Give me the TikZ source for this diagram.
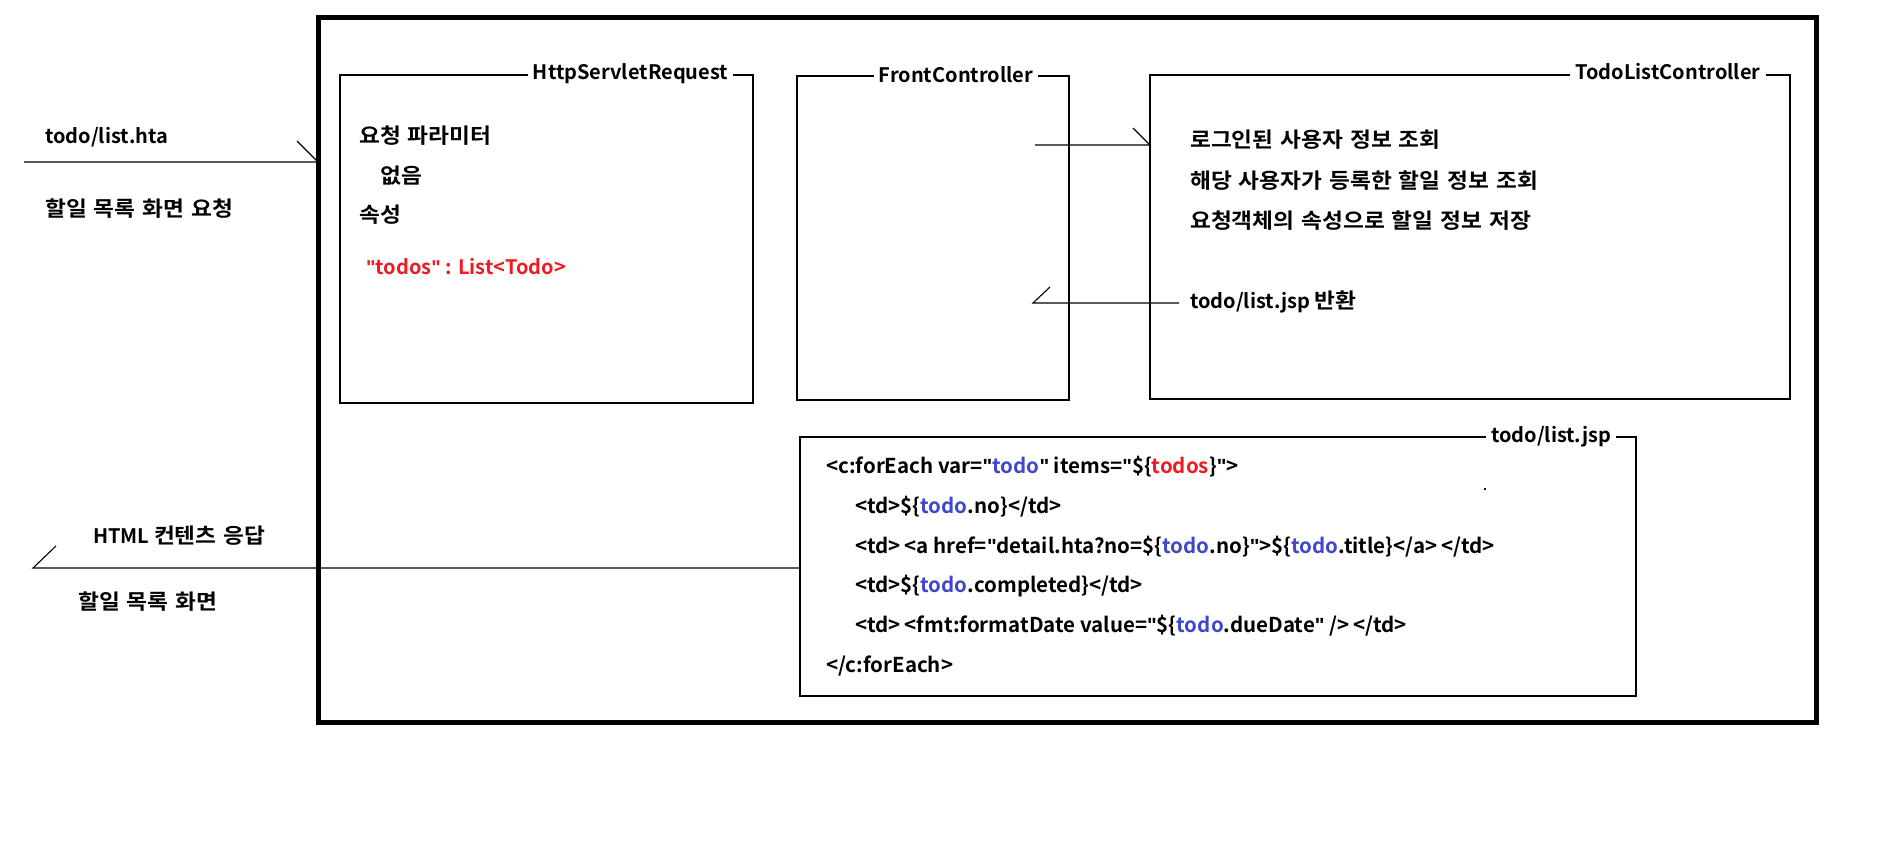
\documentclass[tikz,border=0pt]{standalone}
\usepackage{fontspec}
\setmainfont{Noto Sans CJK KR}[BoldFont={* Bold}, Ligatures=ResetAll]
\newfontfamily\kf{Noto Sans CJK KR}[BoldFont={* Bold}, Ligatures=ResetAll, FakeStretch=1.08]
\newfontfamily\qf{Liberation Sans}[Ligatures=ResetAll]
\definecolor{cblue}{HTML}{3F48CC}
\definecolor{cred}{HTML}{ED1C24}
\newcommand{\tb}[1]{\textcolor{cblue}{#1}}
\newcommand{\tr}[1]{\textcolor{cred}{#1}}
\newcommand{\q}{{\qf\bfseries\symbol{34}}}
\newcommand{\gap}{\hspace{4pt}}
\newcommand{\K}[1]{{\kf\bfseries\fontsize{21}{24}\selectfont\spaceskip=7pt\relax #1}}
\begin{document}
\begin{tikzpicture}[x=1pt,y=-1pt,
  box/.style={draw, line width=1.1pt, inner sep=0pt, outer sep=0pt, anchor=north west},
  txt/.style={anchor=base west, inner sep=0pt, font=\bfseries\fontsize{20}{24}\selectfont},
  code/.style={txt, font=\bfseries\fontsize{20.5}{24}\selectfont},
  ktxt/.style={txt, font=\kf\bfseries\fontsize{21}{24}\selectfont, execute at begin node={\spaceskip=7pt\relax}},
  ttl/.style={anchor=base, fill=white, inner xsep=5pt, inner ysep=0pt, font=\bfseries\fontsize{20}{24}\selectfont},
  conn/.style={line width=1.1pt}]
\useasboundingbox (0,0) rectangle (1898,859);
\fill[white] (0,0) rectangle (1898,859);
% outer frame
\node[box, line width=5pt, minimum width=1498, minimum height=704] (outer) at (318,18) {};
% boxes
\node[box, minimum width=413, minimum height=328] (req) at (340,75) {};
\node[box, minimum width=272, minimum height=324] (fc) at (797,76) {};
\node[box, minimum width=640, minimum height=324] (tlc) at (1150,75) {};
\node[box, minimum width=836, minimum height=259] (jsp) at (800,437) {};
% titles
\node[ttl] (reqT) at (630.5,80) {HttpServletRequest};
\node[ttl] (fcT) at (956,82) {FrontController};
\node[ttl] (tlcT) at (1668,80) {TodoListController};
\node[ttl] (jspT) at (1551,442) {todo/list.jsp};
% left texts
\node[txt] (inL1) at (45,143) {todo/list.hta};
\node[ktxt] (inL2) at (45,216) {할일 목록 화면 요청};
\node[txt] (outL1) at (93,543) {HTML \K{컨텐츠 응답}};
\node[ktxt] (outL2) at (78,609) {할일 목록 화면};
% request box texts
\node[ktxt] (r1) at (359,143) {요청 파라미터};
\node[ktxt] (r2) at (380,183) {없음};
\node[ktxt] (r3) at (359,222) {속성};
\node[txt, text=cred] (r4) at (366,274) {\q todos\q{} : List<Todo>};
% controller texts
\node[ktxt] (c1) at (1190,147) {로그인된 사용자 정보 조회};
\node[ktxt] (c2) at (1190,188) {해당 사용자가 등록한 할일 정보 조회};
\node[ktxt] (c3) at (1190,228) {요청객체의 속성으로 할일 정보 저장};
\node[txt] (c4) at (1190,308) {todo/list.jsp \K{반환}};
% jsp code
\node[code] (j1) at (826,473) {<c:forEach var=\q\tb{todo}\q{} items=\q\$\{\tr{todos}\}\q>};
\node[code] (j2) at (855,513) {<td>\$\{\tb{todo}.no\}</td>};
\node[code] (j3) at (855,553) {<td>\gap<a href=\q detail.hta?no=\$\{\tb{todo}.no\}\q>\$\{\tb{todo}.title\}</a>\gap</td>};
\node[code] (j4) at (855,592) {<td>\$\{\tb{todo}.completed\}</td>};
\node[code] (j5) at (855,632) {<td>\gap<fmt:formatDate value=\q\$\{\tb{todo}.dueDate\q{} />\gap</td>};
\node[code] (j6) at (826,672) {</c:forEach>};
\fill (1484,488) rectangle ++(1.5,2);
% connectors
\coordinate (inS) at (24,162);
\draw[conn] (inS) -- (inS -| outer.west) -- ++(-21,-21);
\coordinate (fcA) at (1035,145);
\draw[conn] (fcA) -- (fcA -| tlc.west) -- ++(-17,-17);
\coordinate (rtS) at (1179,303);
\coordinate (rtT) at (1033,303);
\draw[conn] (rtS) -- (rtT) -- ++(17,-16);
\coordinate (rsT) at (33,568);
\draw[conn] (jsp.west |- rsT) -- (rsT) -- ++(23,-22);
\end{tikzpicture}
\end{document}
